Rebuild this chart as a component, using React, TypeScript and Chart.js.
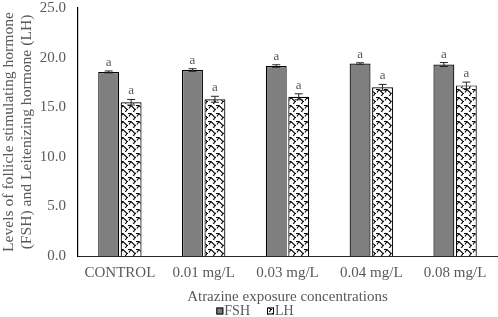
import React, { useEffect, useRef } from "react";
import { Chart, registerables } from "chart.js";
Chart.register(...registerables);

const categories = ["CONTROL", "0.01 mg/L", "0.03 mg/L", "0.04 mg/L", "0.08 mg/L"];
const seriesNames = ["FSH", "LH"];
const fshValues = [18.55, 18.75, 19.15, 19.4, 19.3];
const lhValues = [15.5, 15.8, 16.05, 17.0, 17.2];
const fshErrors = [0.1, 0.13, 0.13, 0.08, 0.2];
const lhErrors = [0.28, 0.3, 0.3, 0.3, 0.33];
const fshLetters = ["a", "a", "a", "a", "a"];
const lhLetters = ["a", "a", "a", "a", "a"];
const yMin = 0;
const yMax = 25;
const yStep = 5;
const yTitle = ["Levels of follicle stimulating hormone", "(FSH) and Leitenizing hormone (LH)"];
const xTitle = "Atrazine exposure concentrations";

const FONT = "'Liberation Serif', 'Times New Roman', serif";
const TEXT = "#595959";
const FSH_COLOR = "#7f7f7f";

function makePattern(): CanvasPattern | string {
  const c = document.createElement("canvas");
  c.width = 8;
  c.height = 8;
  const g = c.getContext("2d");
  if (!g) return "#fff";
  g.fillStyle = "#fff";
  g.fillRect(0, 0, 8, 8);
  g.strokeStyle = "#000";
  g.lineWidth = 1.1;
  g.beginPath();
  g.moveTo(0, 1.5);
  g.lineTo(3, 1.5);
  g.lineTo(7, 5.5);
  g.lineTo(8, 5.5);
  g.moveTo(3, 1.5);
  g.lineTo(1, 4.5);
  g.moveTo(7, 5.5);
  g.lineTo(5, 8.5);
  g.stroke();
  const p = g.createPattern(c, "repeat");
  return p || "#fff";
}

const errorPlugin = {
  id: "errorBars",
  afterDatasetsDraw(chart: any) {
    const ctx = chart.ctx;
    const yScale = chart.scales.y;
    const errs = [fshErrors, lhErrors];
    const vals = [fshValues, lhValues];
    const letters = [fshLetters, lhLetters];
    ctx.save();
    for (let d = 0; d < 2; d++) {
      const meta = chart.getDatasetMeta(d);
      meta.data.forEach((el: any, i: number) => {
        const x = el.x;
        const yt = yScale.getPixelForValue(vals[d][i] + errs[d][i]);
        const yb = yScale.getPixelForValue(vals[d][i] - errs[d][i]);
        ctx.strokeStyle = "#262626";
        ctx.lineWidth = 1;
        ctx.beginPath();
        ctx.moveTo(x, yt);
        ctx.lineTo(x, yb);
        ctx.moveTo(x - 4, yt);
        ctx.lineTo(x + 4, yt);
        ctx.moveTo(x - 4, yb);
        ctx.lineTo(x + 4, yb);
        ctx.stroke();
        ctx.fillStyle = TEXT;
        ctx.font = "13px " + FONT;
        ctx.textAlign = "center";
        ctx.textBaseline = "alphabetic";
        ctx.fillText(letters[d][i], x, yt - 5);
      });
    }
    ctx.restore();
  },
};

const legendPlugin = {
  id: "customLegend",
  afterDraw(chart: any) {
    const ctx = chart.ctx;
    ctx.save();
    ctx.font = "14px " + FONT;
    ctx.textBaseline = "middle";
    ctx.textAlign = "left";
    const box = 7;
    const gapBoxText = 1;
    const gapItems = 17;
    const widths = seriesNames.map((n) => box + gapBoxText + ctx.measureText(n).width);
    const total = widths[0] + gapItems + widths[1];
    let x = chart.width / 2 + 6 - total / 2;
    const y = 311;
    chart.data.datasets.forEach((ds: any, i: number) => {
      ctx.fillStyle = ds.backgroundColor;
      ctx.fillRect(x, y - box / 2, box, box);
      ctx.strokeStyle = "#000";
      ctx.lineWidth = 1;
      ctx.strokeRect(x + 0.5, y - box / 2 + 0.5, box - 1, box - 1);
      ctx.fillStyle = TEXT;
      ctx.fillText(seriesNames[i], x + box + gapBoxText, y);
      x += widths[i] + gapItems;
    });
    ctx.restore();
  },
};

export default function App() {
  const ref = useRef<HTMLCanvasElement | null>(null);
  useEffect(() => {
    if (!ref.current) return;
    const pattern = makePattern();
    const chart = new Chart(ref.current, {
      type: "bar",
      data: {
        labels: categories,
        datasets: [
          {
            label: seriesNames[0],
            data: fshValues,
            backgroundColor: FSH_COLOR,
            borderColor: "#000",
            borderWidth: 1.2,
            categoryPercentage: 0.536,
            barPercentage: 0.93,
          },
          {
            label: seriesNames[1],
            data: lhValues,
            backgroundColor: pattern as any,
            borderColor: "#000",
            borderWidth: 1.2,
            categoryPercentage: 0.536,
            barPercentage: 0.93,
          },
        ],
      },
      options: {
        animation: false,
        responsive: true,
        maintainAspectRatio: false,
        layout: { padding: { top: 0, right: 1, left: 0, bottom: 0 } },
        plugins: {
          tooltip: { enabled: false },
          legend: { display: false },
        },
        scales: {
          x: {
            grid: { display: false, drawTicks: false },
            border: { display: true, color: "#262626", width: 1 },
            ticks: { font: { family: FONT, size: 15 }, color: TEXT, padding: 8 },
            title: {
              display: true,
              text: xTitle,
              font: { family: FONT, size: 15 },
              color: TEXT,
              padding: { top: 0, bottom: 11 },
            },
            afterFit: (scale: any) => {
              scale.height = 317 - 256;
              scale.paddingLeft = 0;
              scale.paddingRight = 0;
            },
          },
          y: {
            min: yMin,
            max: yMax,
            grid: { display: false, drawTicks: false },
            border: { display: true, color: "#000", width: 1.2 },
            ticks: {
              stepSize: yStep,
              font: { family: FONT, size: 15 },
              color: TEXT,
              padding: 12,
              callback: (v: any) => Number(v).toFixed(1),
            },
            title: {
              display: true,
              text: yTitle,
              font: { family: FONT, size: 15.6, lineHeight: 1.15 },
              color: TEXT,
              padding: { top: 0, bottom: 4 },
            },
            afterFit: (scale: any) => {
              scale.width = 78;
              scale.paddingTop = 8;
              scale.paddingBottom = 0;
            },
          },
        },
      },
      plugins: [errorPlugin, legendPlugin],
    });
    return () => chart.destroy();
  }, []);
  return (
    <div style={{ position: "absolute", left: 0, top: 0, width: 498, height: 317, background: "#fff" }}>
      <canvas ref={ref} />
    </div>
  );
}
